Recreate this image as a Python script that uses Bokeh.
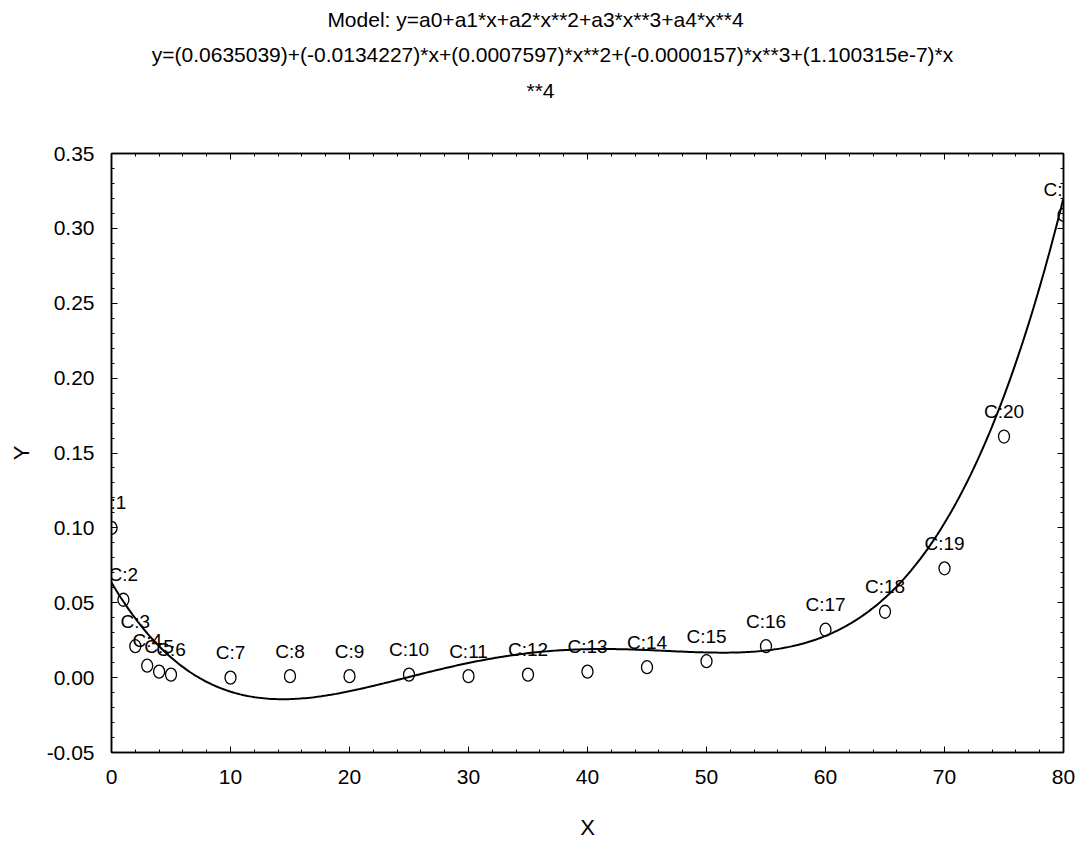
import numpy as np
from bokeh.plotting import figure
from bokeh.layouts import column
from bokeh.models import (Range1d, LinearAxis, FixedTicker, NumeralTickFormatter,
                          CustomJSTickFormatter, ColumnDataSource)
from bokeh.core.properties import value
from bokeh.embed import file_html
from bokeh.resources import INLINE

# ---- data ----
case_labels = ["C:1", "C:2", "C:3", "C:4", "C:5", "C:6", "C:7", "C:8", "C:9", "C:10", "C:11",
               "C:12", "C:13", "C:14", "C:15", "C:16", "C:17", "C:18", "C:19", "C:20", "C:21"]
x_vals = [0, 1, 2, 3, 4, 5, 10, 15, 20, 25, 30, 35, 40, 45, 50, 55, 60, 65, 70, 75, 80]
y_vals = [0.100, 0.052, 0.021, 0.008, 0.004, 0.002, 0.000, 0.001, 0.001, 0.002, 0.001,
          0.002, 0.004, 0.007, 0.011, 0.021, 0.032, 0.044, 0.073, 0.161, 0.309]
# fitted model coefficients (a0..a4) as printed on the chart
coeffs = [0.0635039, -0.0134227, 0.0007597, -0.0000157, 1.100315e-7]
x_ticks = [0, 10, 20, 30, 40, 50, 60, 70, 80]
y_ticks = [-0.05, 0.00, 0.05, 0.10, 0.15, 0.20, 0.25, 0.30, 0.35]
title_lines = [
    "Model: y=a0+a1*x+a2*x**2+a3*x**3+a4*x**4",
    "y=(0.0635039)+(-0.0134227)*x+(0.0007597)*x**2+(-0.0000157)*x**3+(1.100315e-7)*x",
    "**4",
]
x_label = "X"
y_label = "Y"

FONT = "Liberation Sans"
W = 1078
TITLE_H = 130
FRAME_L, FRAME_R = 111, 1063

# ---------------- title block (its frame is aligned with the plot frame) ----------------
tp = figure(width=W, height=TITLE_H, output_backend="svg", toolbar_location=None,
            x_range=Range1d(FRAME_L, FRAME_R), y_range=Range1d(TITLE_H, 0),
            x_axis_type=None, y_axis_type=None,
            min_border_left=0, min_border_right=0, min_border_top=0, min_border_bottom=0)
tp.outline_line_color = None
tp.xgrid.visible = False
tp.ygrid.visible = False
tsrc = ColumnDataSource(dict(x=[535, 552, 540], y=[19, 54, 90], text=title_lines))
tp.text(x="x", y="y", text="text", source=tsrc, text_align="center", text_baseline="middle",
        text_font=value(FONT), text_font_size="21px", text_color="black")

# ---------------- main plot ----------------
src = ColumnDataSource(dict(x=x_vals, y=y_vals, label=case_labels))

xs = np.linspace(x_ticks[0], x_ticks[-1], 400)
ys = sum(c * xs ** i for i, c in enumerate(coeffs))

def minors(ticks, n):
    out = []
    for a, b in zip(ticks[:-1], ticks[1:]):
        step = (b - a) / n
        out += [a + k * step for k in range(1, n)]
    return out

p = figure(width=W, height=847 - TITLE_H, output_backend="svg", toolbar_location=None,
           x_range=Range1d(x_ticks[0], x_ticks[-1]), y_range=Range1d(y_ticks[0], y_ticks[-1]),
           min_border_left=FRAME_L, min_border_right=W - FRAME_R, min_border_top=153 - TITLE_H,
           min_border_bottom=95)
p.background_fill_color = "white"
p.border_fill_color = "white"
p.outline_line_color = "black"
p.outline_line_width = 1.5
p.xgrid.visible = False
p.ygrid.visible = False

xt = FixedTicker(ticks=x_ticks, minor_ticks=minors(x_ticks, 5))
yt = FixedTicker(ticks=y_ticks, minor_ticks=minors(y_ticks, 5))

def style_axis(ax):
    ax.axis_line_color = "black"
    ax.axis_line_width = 1.5
    ax.major_tick_in = 6
    ax.major_tick_out = 0
    ax.minor_tick_in = 3
    ax.minor_tick_out = 0
    ax.major_tick_line_color = "black"
    ax.minor_tick_line_color = "black"
    ax.major_label_text_font = FONT
    ax.major_label_text_font_size = "21px"
    ax.major_label_text_color = "black"
    ax.axis_label_text_font = FONT
    ax.axis_label_text_font_size = "22px"
    ax.axis_label_text_font_style = "normal"
    ax.axis_label_text_color = "black"

p.xaxis.ticker = xt
p.yaxis.ticker = yt
p.xaxis.formatter = NumeralTickFormatter(format="0")
p.yaxis.formatter = NumeralTickFormatter(format="0.00")
p.xaxis.axis_label = x_label
p.yaxis.axis_label = y_label
for ax in (p.xaxis[0], p.yaxis[0]):
    style_axis(ax)
    ax.major_label_standoff = 17
p.xaxis.axis_label_standoff = 28
p.yaxis.axis_label_standoff = 10

blank = CustomJSTickFormatter(code="return ''")
rax = LinearAxis(ticker=yt, formatter=blank)
tax = LinearAxis(ticker=xt, formatter=blank)
for ax in (rax, tax):
    style_axis(ax)
    ax.major_label_standoff = 0
p.add_layout(rax, "right")
p.add_layout(tax, "above")

# fitted curve
p.line(xs, ys, line_color="black", line_width=2)

# observed points as open "O" marks
p.ellipse(x="x", y="y", width=11, height=13, width_units="screen", height_units="screen",
          source=src, fill_color=None, line_color="black", line_width=1.3)

# case labels
p.text(x="x", y="y", text="label", source=src, text_align="center", text_baseline="middle",
       y_offset=-25, text_font=value(FONT), text_font_size="19px", text_color="black")

layout = column(tp, p, spacing=0)
open("out.html", "w").write(file_html(layout, INLINE))
